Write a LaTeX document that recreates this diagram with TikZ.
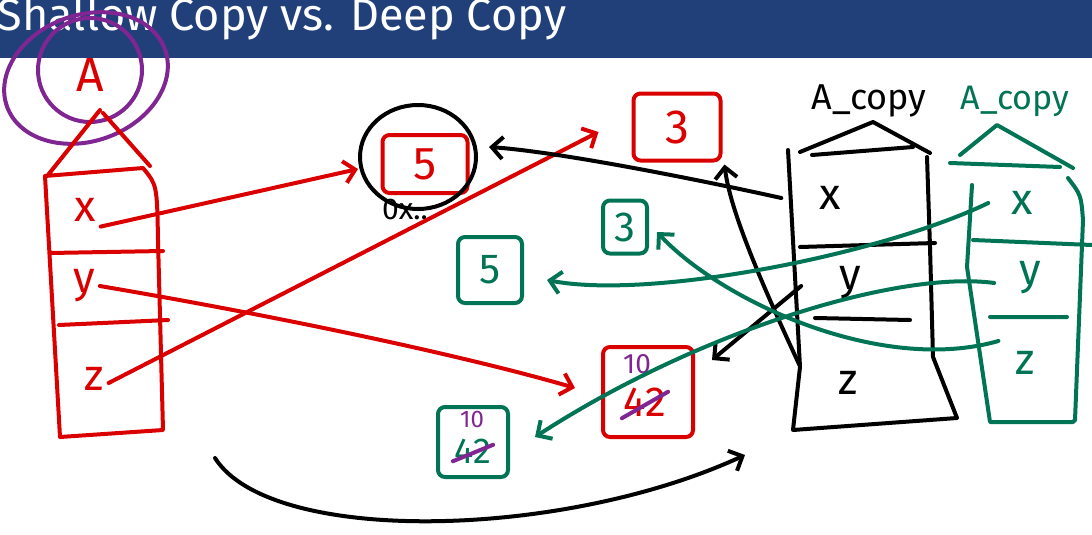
\documentclass[tikz,border=0pt]{standalone}
\usepackage{fontspec}
\setmainfont{Fira Sans}
\usepackage{tikz}
\usetikzlibrary{arrows.meta, shapes.geometric}
\definecolor{titleblue}{RGB}{33,64,122}
\definecolor{inkred}{RGB}{218,0,0}
\definecolor{inkgreen}{RGB}{0,116,84}
\definecolor{inkpurple}{RGB}{128,38,146}
\newcommand*{\handsize}[1]{\fontsize{#1}{#1}\selectfont}

\begin{document}
\begin{tikzpicture}[x=1pt, y=-1pt, line width=4pt, line cap=round, line join=round,
    ptr/.style={-{Straight Barb[length=11pt, width=22pt]}},
    valbox/.style={draw, rounded corners=7pt, inner sep=0pt}]
      \useasboundingbox (0,0) rectangle (1092,535);
      \clip (0,0) rectangle (1092,535);
      \fill[titleblue] (0,0) rectangle (1092,58);
      \node[anchor=base west, text=white, inner sep=0pt, font=\handsize{45}]
        (title) at (-4,31) {Shallow Copy vs. Deep Copy};

      \draw[inkpurple] (90,70) ellipse [x radius=52pt, y radius=52pt];
      \draw[inkpurple, rotate around={20:(86,78)}] (86,78) ellipse [x radius=84pt, y radius=63pt];

      \draw[inkred]
        (48,175) -- (100,110) (103,113) -- (150,166)
        (45,176) -- (143,168) .. controls (157,185) .. (158,240) -- (163,430)
          -- (60,437) -- (45,176)
        (50,253) -- (163,251)
        (59,325) -- (168,320);

      \draw
        (800,152) -- (873,122) -- (930,153)
        (812,155) -- (913,147)
        (788,150) -- (800,367) -- (793,430) -- (957,418) -- (933,357) -- (930,247) -- (927,157)
        (800,247) -- (935,243)
        (815,318) -- (910,320);

      \draw[inkgreen]
        (960,155) -- (997,125) -- (1073,168)
        (950,163) -- (1060,167)
        (972,185) -- (967,267) -- (990,422) -- (1073,422) -- (1075,420)
          -- (1083,220) .. controls (1081,195) .. (1068,178)
        (973,240) -- (1092,245)
        (990,317) -- (1067,317);

      {\tikzstyle{every node}=[inner sep=3pt, font=\handsize{44}]
        \node[inkred, font=\handsize{48}] (A) at (90,75) {A};
        \node (bname) at (869,101) [font=\handsize{36}] {A\_copy};
        \node[inkgreen, font=\handsize{34}] (gname) at (1015,101) {A\_copy};

        \foreach \c/\x/\y in {x/85/210, y/84/286, z/94/379}
        {
          \node[inkred] (r\c) at (\x,\y) {\c};
        }

        \foreach \c/\x/\y in {x/830/198, y/850/283, z/848/383}
        {
          \node (b\c) at (\x,\y) {\c};
        }

        \foreach \c/\x/\y in {x/1022/203, y/1030/278, z/1025/363}
        {
          \node[inkgreen] (g\c) at (\x,\y) {\c};
        }
      }

      \node[valbox, inkred, minimum width=85pt, minimum height=58pt, font=\handsize{46}]
        (r5) at (425,164) {5};
      \node[draw, ellipse, minimum width=116pt, minimum height=104pt] (r5ring) at (418,157) {};
      \node[font=\handsize{30}] (addr) at (405,209) {0x..};
      \node[valbox, inkred, minimum width=87pt, minimum height=67pt, font=\handsize{48}]
        (r3) at (677,127) {3};
      \node[valbox, inkred, minimum width=90pt, minimum height=90pt] (r42) at (648,392) {};
      \node[inkred, font=\handsize{42}, inner sep=0pt] (r42v) at (645,402) {42};
      \node[inkpurple, font=\handsize{28}, inner sep=0pt] (r10) at (637,364) {10};
      \draw[inkpurple] (r42v.south west) -- ([yshift=-6pt]r42v.north east);

      \node[valbox, inkgreen, minimum width=64pt, minimum height=66pt, font=\handsize{42}]
        (g5) at (490,270) {5};
      \node[valbox, inkgreen, minimum width=44pt, minimum height=53pt, font=\handsize{42}]
        (g3) at (625,227) {3};
      \node[valbox, inkgreen, minimum width=70pt, minimum height=70pt] (g42) at (473,442) {};
      \node[inkgreen, font=\handsize{36}, inner sep=0pt] (g42v) at (473,451) {42};
      \node[inkpurple, font=\handsize{24}, inner sep=0pt] (g10) at (472,419) {10};
      \draw[inkpurple] ([yshift=4pt]g42v.south west) -- ([yshift=-8pt]g42v.north east);

      \draw[inkred, ptr] (rx.south east) -- ([yshift=-12pt]r5ring.west);
      \draw[inkred, ptr] (ry.east) .. controls (300,320) and (480,360) .. ([xshift=-26pt, yshift=4pt]r42.west);
      \draw[inkred, ptr] ([yshift=-4pt]rz.east) -- ([xshift=-33pt, yshift=-5pt]r3.west);

      \draw[ptr] ([xshift=-33pt]bx.west) .. controls (700,180) and (560,152) .. ([xshift=11pt, yshift=10pt]r5ring.east);
      \draw[ptr] ([xshift=-33pt, yshift=-3pt]by.west) -- ([xshift=17pt, yshift=32pt]r42.east);
      \draw[ptr] ([xshift=-34pt, yshift=18pt]bz.west) .. controls (760,280) and (730,210) .. ([xshift=2pt, yshift=-2pt]r3.south east);

      \draw[inkgreen, ptr] ([xshift=-18pt]gx.west) .. controls (880,255) and (650,300) .. ([xshift=23pt, yshift=-10pt]g5.east);
      \draw[inkgreen, ptr] ([xshift=-20pt, yshift=-5pt]gy.west) .. controls (900,270) and (700,330) .. ([xshift=25pt, yshift=5pt]g42.east);
      \draw[inkgreen, ptr] ([xshift=-12pt, yshift=22pt]gz.west) .. controls (880,375) and (720,300) .. ([xshift=8pt, yshift=-5pt]g3.east);

      \coordinate (swapfrom) at (215,458);
      \coordinate (swapto) at (745,455);
      \draw[ptr] (swapfrom) .. controls (270,545) and (560,540) .. (swapto);
    \end{tikzpicture}
\end{document}
